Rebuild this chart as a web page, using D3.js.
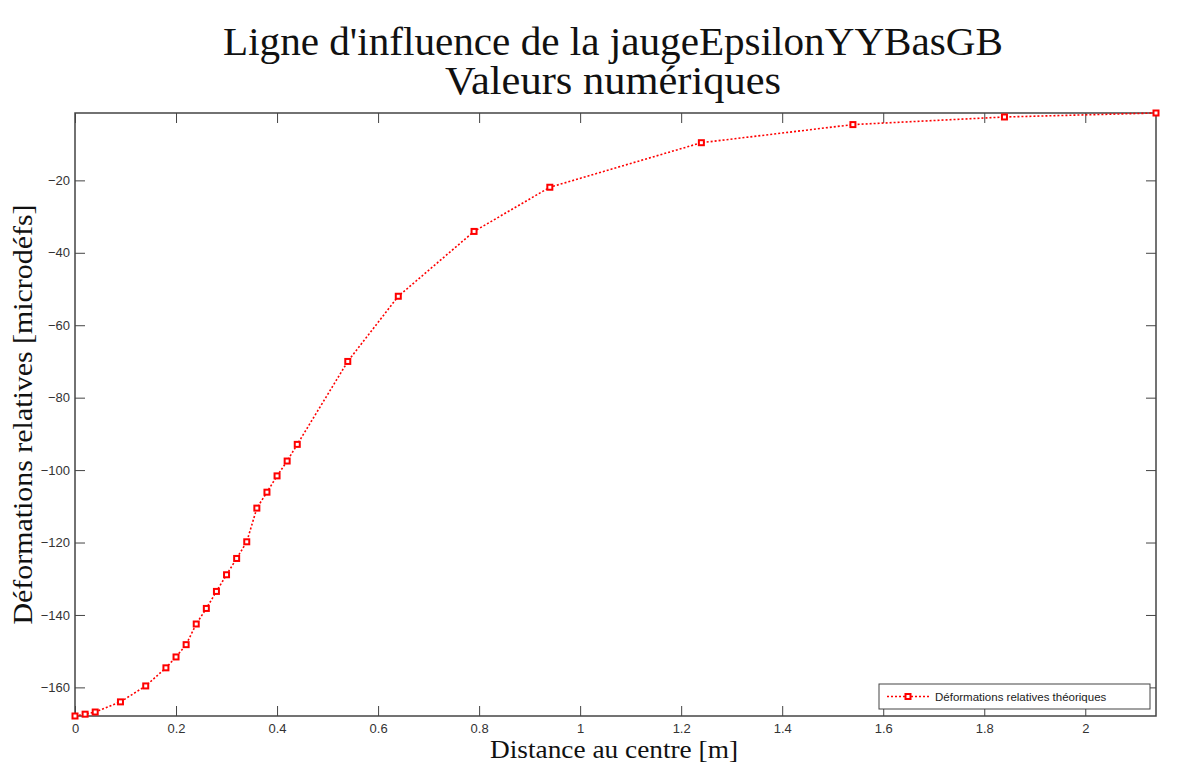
<!DOCTYPE html>
<html>
<head>
<meta charset="utf-8">
<script src="https://cdn.jsdelivr.net/npm/d3@7/dist/d3.min.js"></script>
<style>
  body { margin: 0; background: #fff; }
  svg { display: block; }
  .serif { font-family: "Liberation Serif", "Times New Roman", serif; fill: #111; }
</style>
</head>
<body>
<svg id="chart" width="1192" height="764"></svg>
<script>
// distance au centre [m]
var distances = [0, 0.02, 0.04, 0.09, 0.14, 0.18, 0.20, 0.22, 0.24, 0.26, 0.28, 0.30, 0.32,
  0.34, 0.36, 0.38, 0.40, 0.42, 0.44, 0.54, 0.64, 0.79, 0.94, 1.24, 1.54, 1.84, 2.14];
// déformations relatives théoriques [microdéfs]
var deformations = [-167.9, -167.4, -166.8, -164.0, -159.6, -154.6, -151.6, -148.2, -142.5,
  -138.2, -133.5, -128.9, -124.4, -119.8, -110.5, -106.1, -101.6, -97.5, -92.9,
  -70.0, -52.0, -34.1, -21.9, -9.6, -4.6, -2.5, -1.4];

var xTicks = [0, 0.2, 0.4, 0.6, 0.8, 1, 1.2, 1.4, 1.6, 1.8, 2];
var yTicks = [-160, -140, -120, -100, -80, -60, -40, -20];

var titleLines = ["Ligne d'influence de la jaugeEpsilonYYBasGB", "Valeurs numériques"];
var xLabel = "Distance au centre [m]";
var yLabel = "Déformations relatives [microdéfs]";
var legendLabel = "Déformations relatives théoriques";

var plot = { left: 75, right: 1156, top: 113, bottom: 716 };
var red = "#ff0000";
var axisColor = "#444";

var svg = d3.select("#chart");

var xScale = d3.scaleLinear()
  .domain([0, d3.max(distances)])
  .range([plot.left, plot.right]);

var yScale = d3.scaleLinear()
  .domain(d3.extent(deformations))
  .range([plot.bottom, plot.top]);

var fmt = d3.format("~g");

// axes (Matlab style, ticks pointing inward, box all round)
function styleAxis(g) {
  g.select(".domain").remove();
  g.selectAll(".tick line").attr("stroke", axisColor);
}

svg.append("g")
  .attr("transform", "translate(0," + plot.bottom + ")")
  .call(d3.axisBottom(xScale).tickValues(xTicks).tickFormat(fmt)
    .tickSizeInner(-10).tickSizeOuter(0).tickPadding(8))
  .call(styleAxis);

svg.append("g")
  .attr("transform", "translate(0," + plot.top + ")")
  .call(d3.axisTop(xScale).tickValues(xTicks).tickFormat("")
    .tickSizeInner(-10).tickSizeOuter(0))
  .call(styleAxis);

svg.append("g")
  .attr("transform", "translate(" + plot.left + ",0)")
  .call(d3.axisLeft(yScale).tickValues(yTicks).tickFormat(fmt)
    .tickSizeInner(-10).tickSizeOuter(0).tickPadding(5))
  .call(styleAxis);

svg.append("g")
  .attr("transform", "translate(" + plot.right + ",0)")
  .call(d3.axisRight(yScale).tickValues(yTicks).tickFormat("")
    .tickSizeInner(-10).tickSizeOuter(0))
  .call(styleAxis);

svg.selectAll(".tick text").style("font-family", "'Liberation Sans', Arial, sans-serif")
  .style("font-size", "13px").attr("fill", "#333");

svg.append("rect")
  .attr("x", plot.left)
  .attr("y", plot.top)
  .attr("width", plot.right - plot.left)
  .attr("height", plot.bottom - plot.top)
  .attr("fill", "none")
  .attr("stroke", axisColor)
  .attr("stroke-width", 1.5);

// series
var line = d3.line()
  .x(function (d, i) { return xScale(distances[i]); })
  .y(function (d) { return yScale(d); });

svg.append("path")
  .datum(deformations)
  .attr("d", line)
  .attr("fill", "none")
  .attr("stroke", red)
  .attr("stroke-width", 1.6)
  .attr("stroke-dasharray", "2,2");

var m = 5;
svg.selectAll("rect.marker")
  .data(deformations)
  .enter()
  .append("rect")
  .attr("class", "marker")
  .attr("x", function (d, i) { return xScale(distances[i]) - m / 2; })
  .attr("y", function (d) { return yScale(d) - m / 2; })
  .attr("width", m)
  .attr("height", m)
  .attr("fill", "#fff")
  .attr("stroke", red)
  .attr("stroke-width", 2);

// legend
var legend = svg.append("g").attr("transform", "translate(879,684)");
legend.append("rect")
  .attr("width", 271)
  .attr("height", 25)
  .attr("fill", "#fff")
  .attr("stroke", axisColor);
legend.append("line")
  .attr("x1", 8).attr("x2", 50)
  .attr("y1", 12.5).attr("y2", 12.5)
  .attr("stroke", red)
  .attr("stroke-width", 1.6)
  .attr("stroke-dasharray", "2,2");
legend.append("rect")
  .attr("x", 29 - m / 2).attr("y", 12.5 - m / 2)
  .attr("width", m).attr("height", m)
  .attr("fill", "#fff")
  .attr("stroke", red)
  .attr("stroke-width", 2);
legend.append("text")
  .attr("x", 56)
  .attr("y", 17)
  .style("font-family", "'Liberation Sans', Arial, sans-serif")
  .style("font-size", "11.5px")
  .attr("fill", "#222")
  .text(legendLabel);

// titles and axis labels
var titleCfg = [{ y: 55, len: 780 }, { y: 94, len: 336 }];
svg.selectAll("text.title")
  .data(titleLines)
  .enter()
  .append("text")
  .attr("class", "title serif")
  .attr("x", 613)
  .attr("y", function (d, i) { return titleCfg[i].y; })
  .attr("text-anchor", "middle")
  .attr("textLength", function (d, i) { return titleCfg[i].len; })
  .attr("lengthAdjust", "spacingAndGlyphs")
  .style("font-size", "41px")
  .text(function (d) { return d; });

svg.append("text")
  .attr("class", "serif")
  .attr("x", 614)
  .attr("y", 758)
  .attr("text-anchor", "middle")
  .attr("textLength", 248)
  .attr("lengthAdjust", "spacingAndGlyphs")
  .style("font-size", "26px")
  .text(xLabel);

svg.append("text")
  .attr("class", "serif")
  .attr("transform", "translate(32," + ((plot.top + plot.bottom) / 2) + ") rotate(-90)")
  .attr("text-anchor", "middle")
  .attr("textLength", 420)
  .attr("lengthAdjust", "spacingAndGlyphs")
  .style("font-size", "27px")
  .text(yLabel);
</script>
</body>
</html>
